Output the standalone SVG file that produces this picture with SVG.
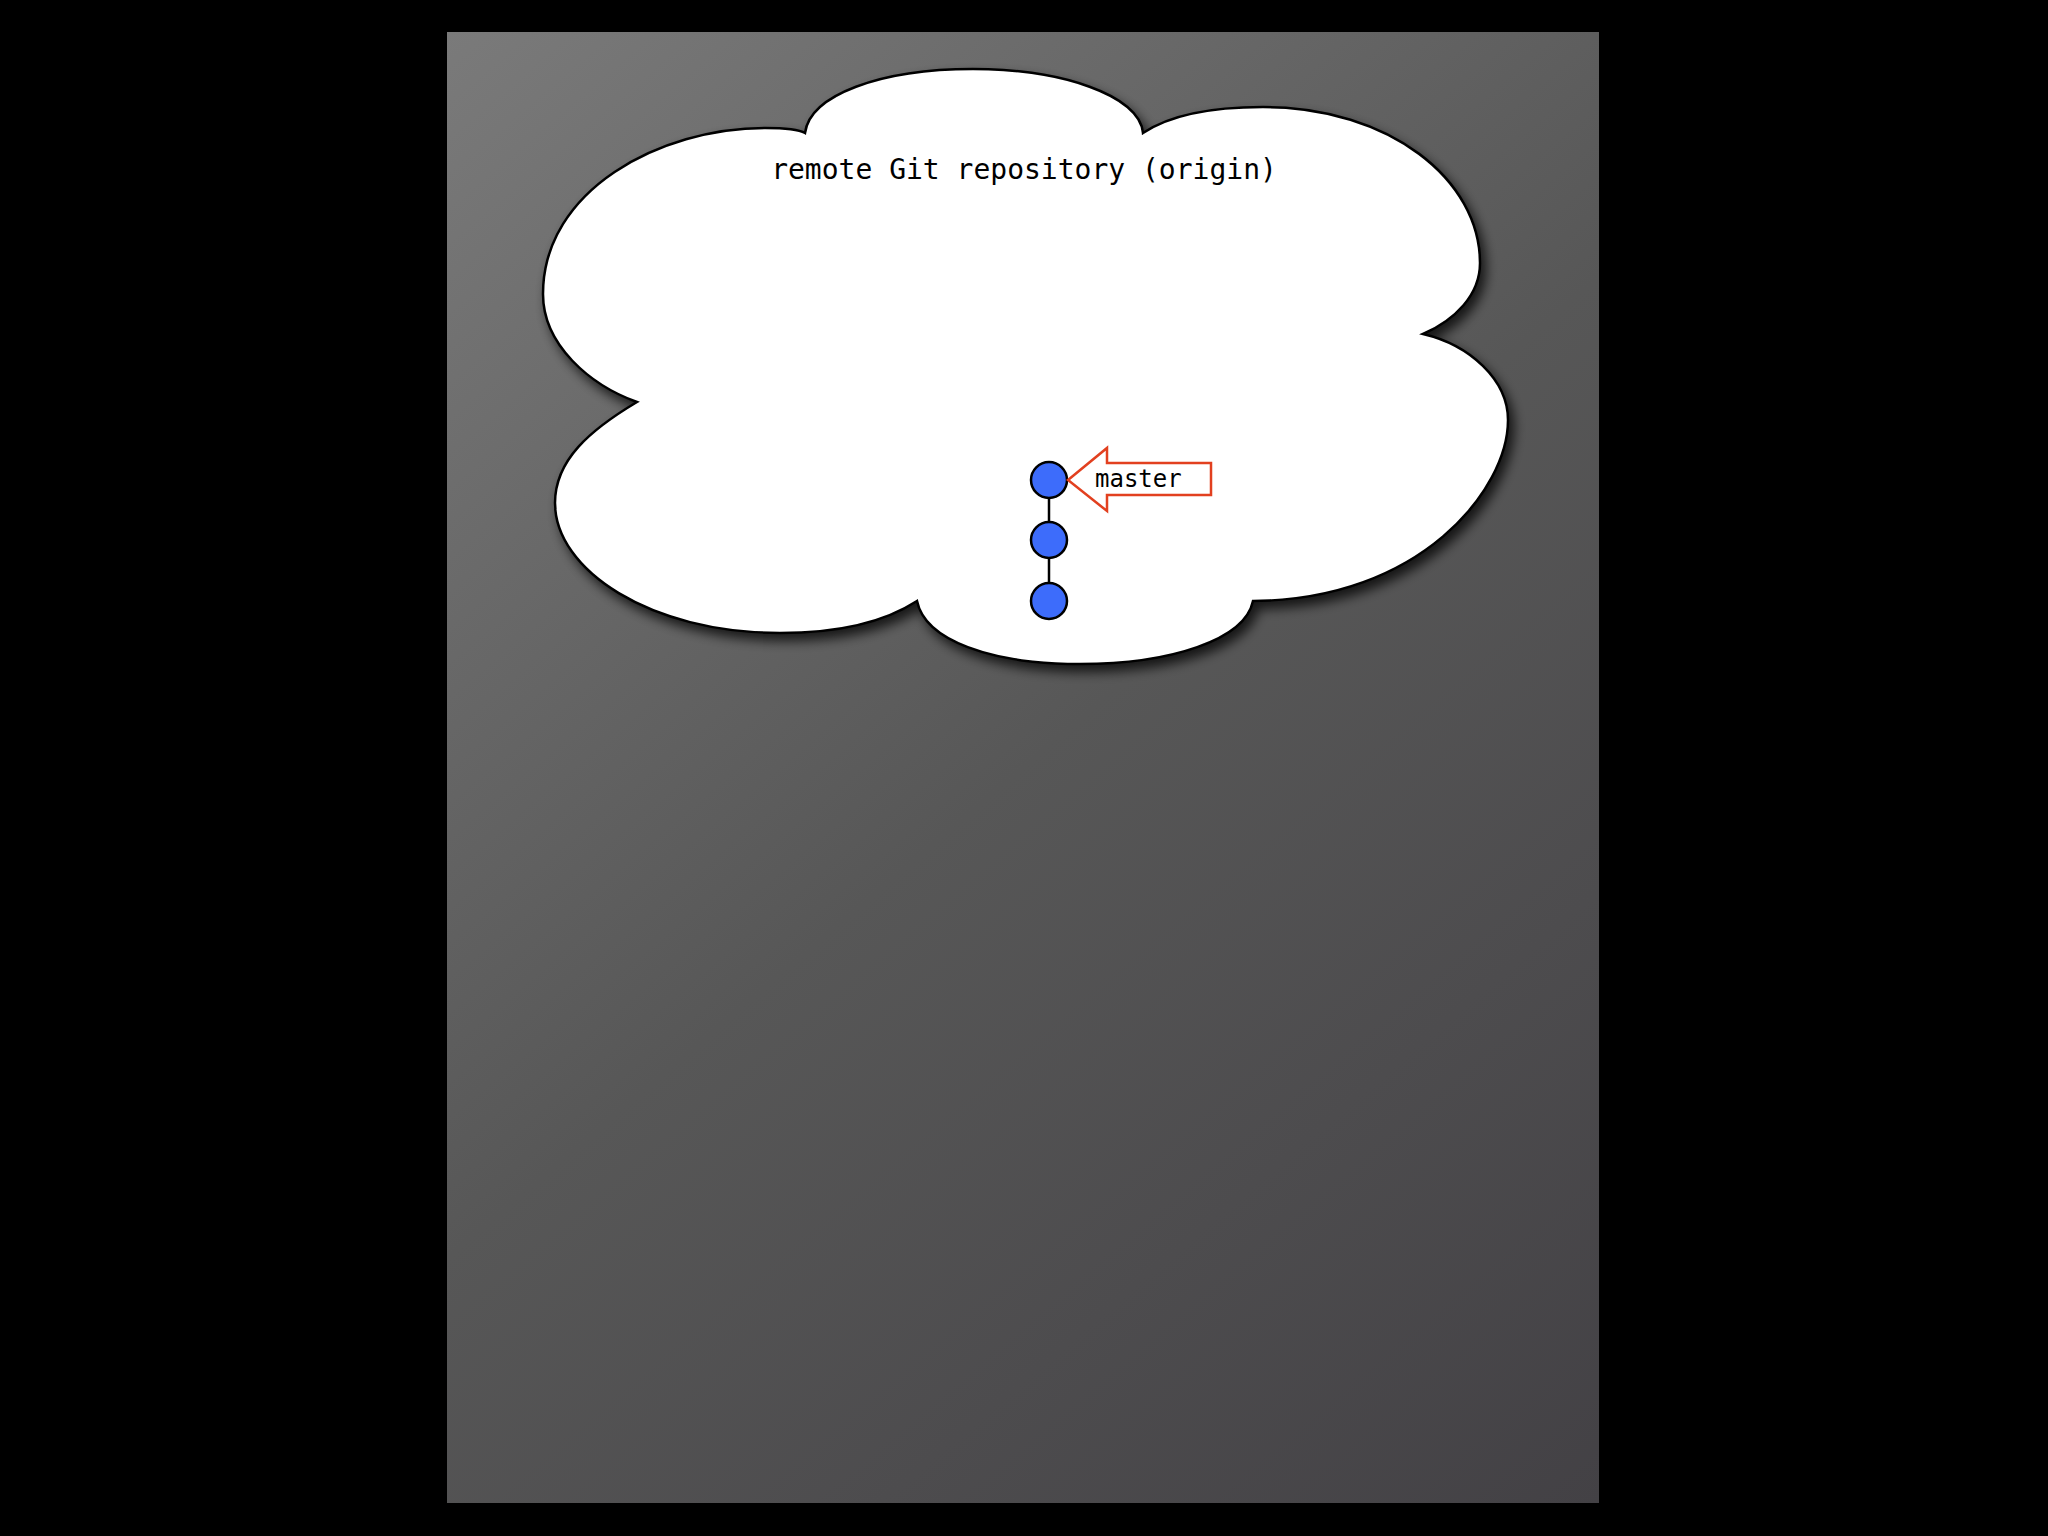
<svg xmlns="http://www.w3.org/2000/svg" width="2048" height="1536" viewBox="0 0 2048 1536">
  <defs>
    <linearGradient id="bg" gradientUnits="userSpaceOnUse" x1="447" y1="32" x2="1657" y2="1454">
      <stop offset="0" stop-color="#7a7a7a"/>
      <stop offset="0.5" stop-color="#575757"/>
      <stop offset="1" stop-color="#434145"/>
    </linearGradient>
    <filter id="shadow" x="-10%" y="-10%" width="125%" height="130%">
      <feDropShadow dx="5" dy="7" stdDeviation="6" flood-color="#000" flood-opacity="0.75"/>
    </filter>
    <style>
      .commit { fill: #3d6cfb; stroke: #000; stroke-width: 2.5; }
      .edge { stroke: #000; stroke-width: 2.5; fill: none; }
      .mono { font-family: "DejaVu Sans Mono", "Liberation Mono", monospace; fill: #000; }
      .ref { fill: #fff; stroke: #e2401f; stroke-width: 2.5; }
    </style>
  </defs>
  <rect x="0" y="0" width="2048" height="1536" fill="#000"/>
  <rect x="447" y="32" width="1152" height="1471" fill="url(#bg)"/>

  <g id="cloud">
    <path filter="url(#shadow)" fill="#fff" stroke="#000" stroke-width="2.5" stroke-linejoin="miter"
      d="M 637 402
         C 590 385 543 345 543 294
         C 543 190 660 128 765 128
         C 785 128 800 130 805 133
         C 810 95 880 69 973 69
         C 1060 69 1140 95 1143 133
         C 1170 115 1210 107 1263 107
         C 1390 107 1480 180 1480 263
         C 1480 295 1455 320 1423 334
         C 1470 345 1508 380 1508 420
         C 1508 490 1420 600 1253 601
         C 1245 640 1170 664 1080 664
         C 990 664 925 640 917 601
         C 880 625 830 633 780 633
         C 650 633 555 570 555 503
         C 555 460 590 430 637 402 Z"/>
    <text class="mono" x="1024" y="179" font-size="28" text-anchor="middle">remote Git repository (origin)</text>
  </g>

  <g id="connectors">
    <line class="edge" x1="1049" y1="498" x2="1049" y2="522"/>
    <line class="edge" x1="1049" y1="558" x2="1049" y2="583"/>
  </g>

  <g id="commit1"><circle class="commit" cx="1049" cy="480" r="18"/></g>
  <g id="commit2"><circle class="commit" cx="1049" cy="540" r="18"/></g>
  <g id="commit3"><circle class="commit" cx="1049" cy="601" r="18"/></g>

  <g id="master">
    <polygon class="ref" points="1068,480 1107,448 1107,463 1211,463 1211,495 1107,495 1107,511"/>
    <text class="mono" x="1095" y="487" font-size="24">master</text>
  </g>
</svg>
